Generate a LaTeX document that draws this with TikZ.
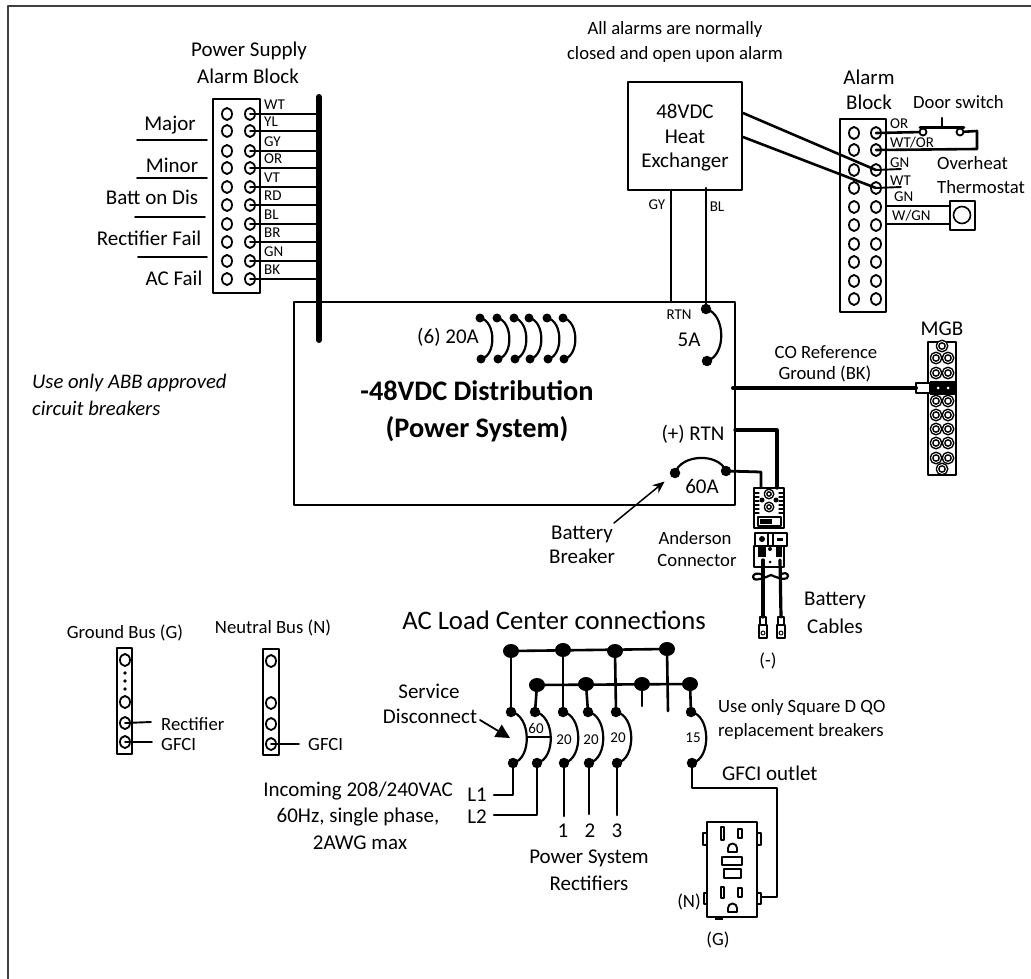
\documentclass[tikz,border=0pt]{standalone}
\usepackage{fontspec}
\setmainfont{Carlito}
\usetikzlibrary{arrows.meta,shapes.geometric}
\tikzset{
	txt/.style={inner sep=0pt,font=\fontsize{21}{24}\selectfont},
	note/.style={inner sep=0pt,font=\fontsize{18.7}{22}\selectfont},
	tag/.style={inner sep=0pt,font=\fontsize{15}{17}\selectfont},
	term/.style={draw,ellipse,line width=1.8pt,minimum width=10pt,minimum height=12pt,inner sep=0pt},
	mterm/.style={draw,circle,line width=1.5pt,minimum size=9pt,inner sep=0pt,double,double distance=.8pt},
	tdot/.style={fill,circle,minimum size=10.5pt,inner sep=0pt},
	bdot/.style={fill,ellipse,minimum width=16pt,minimum height=14pt,inner sep=0pt},
	wire/.style={line width=1.9pt},
	hwire/.style={line width=2.6pt},
	barc/.style={line width=2.2pt},
}
\begin{document}
\begin{tikzpicture}[x=1pt,y=-1pt,line join=round,line cap=round,>=stealth]
	\useasboundingbox (0,0) rectangle (1031,979);
	\draw[line width=1.4pt,black!75,line cap=butt] (8,979) -- (8,6) -- (1031,6);

	\node[txt] (pstitle) at (249,51) {Power Supply};
	\node[txt] (psblock) at (248,76) {Alarm Block};
	\draw[wire] (213,99) rectangle (260,293);
	\foreach \i/\y/\c in {1/114/WT,2/131/YL,3/151/GY,4/168/OR,5/187/VT,6/205/RD,7/224/BL,8/242/BR,9/261/GN,10/279/BK}{
		\node[term] (pl\i) at (227,\y) {};
		\node[term] (pr\i) at (250,\y) {};
		\draw[wire] (pr\i.center) -- (319,\y);
		\node[tag,anchor=west] (plb\i) at (264,\y-9) {\c};
	}
	\draw[line width=6pt] (319,97) -- (319,340);
	\foreach \n/\x/\y/\t in {a/170/125/Major,b/172/165/Minor,c/152/197/Batt on Dis,d/149/238/Rectifier Fail,e/174/278/AC Fail}
		\node[txt] (ps\n) at (\x,\y) {\t};
	\draw[wire] (137,140) -- (207,140);
	\draw[wire] (137,178) -- (207,178);
	\draw[wire] (135,217) -- (205,217);
	\draw[wire] (138,257) -- (207,257);

	\draw[hwire] (294,302) rectangle (735,505);
	\node[inner sep=0pt,font=\fontsize{28.3}{32}\selectfont\bfseries] (dist1) at (477,391) {-48VDC Distribution};
	\node[inner sep=0pt,font=\fontsize{28.3}{32}\selectfont\bfseries] (dist2) at (477,429) {(Power System)};
	\node[txt,anchor=east] (six) at (479,337) {(6) 20A};
	\foreach \i/\xa/\xb in {1/480/481,2/497/498,3/514/515,4/529/530,5/547/548,6/563/564}{
		\node[tdot,minimum size=9pt] (ba\i) at (\xa,318) {};
		\node[tdot,minimum size=9pt] (bb\i) at (\xb,359) {};
		\draw[barc] (ba\i.center) to[bend left=80] (bb\i.center);
	}

	\node[draw,line width=2pt,minimum width=114pt,minimum height=108pt,inner sep=0pt] (hx) at (685,136) {};
	\node[txt] (hx1) at (685,111) {48VDC};
	\node[txt] (hx2) at (685,137) {Heat};
	\node[txt] (hx3) at (685,162) {Exchanger};
	\node[note] (all1) at (675,30) {All alarms are normally};
	\node[note] (all2) at (675,55) {closed and open upon alarm};
	\node[tag] (gy) at (657,205) {GY};
	\node[tag] (bl) at (717,207) {BL};
	\node[tag] (rtn) at (679,315) {RTN};
	\node[txt] (fivea) at (689,340) {5A};
	\node[tdot] (fa) at (706,309) {};
	\node[tdot] (fb) at (707,361) {};
	\draw[barc] (fa.center) to[bend left=75] (fb.center);
	\draw[hwire] (671,190) -- (671,302);
	\draw[hwire] (706,188) -- (fa.center);

	\node[txt] (abt1) at (869,77) {Alarm};
	\node[txt] (abt2) at (869,102) {Block};
	\draw[wire] (840,119) rectangle (886,312);
	\foreach \i/\y in {1/133,2/150,3/170,4/188,5/207,6/225,7/244,8/262,9/281,10/299}{
		\node[term] (al\i) at (854,\y) {};
		\node[term] (ar\i) at (876,\y) {};
	}
	\foreach \n/\x/\y/\t in {a/890/124/OR,b/890/143/{WT/OR},c/890/163/GN,d/890/181/WT,e/894/197/GN,f/892/216/{W/GN}}
		\node[tag,anchor=west] (al\n) at (\x,\y) {\t};
	\draw[hwire] (743,113) -- (ar3.center);
	\draw[hwire] (743,137) -- (ar4.center);
	\draw[wire] (ar3.center) -- (901,169);
	\draw[wire] (ar4.center) -- (901,187);
	\node[note,anchor=west] (door) at (913,102) {Door switch};
	\node[note,anchor=west] (over1) at (937,163) {Overheat};
	\node[note,anchor=west] (over2) at (937,187) {Thermostat};
	\node[term,minimum width=7pt,minimum height=7pt] (dsa) at (923,132) {};
	\node[term,minimum width=7pt,minimum height=7pt] (dsb) at (960,132) {};
	\draw[hwire] (ar1.center) -- (dsa);
	\draw[hwire] (920,127.5) -- (964,127.5);
	\draw[hwire] (942,118) -- (942,127.5);
	\draw[hwire] (dsb) -- (977,131) -- (977,149) -- (ar2.center);
	\node[draw,line width=2pt,minimum width=25pt,minimum height=29pt,inner sep=0pt] (thbox) at (962.5,215.5) {};
	\node[draw,circle,line width=1.6pt,minimum size=17pt,inner sep=0pt] (thcirc) at (962,215) {};
	\draw[hwire] (887,206) -- (950,206);
	\draw[hwire] (887,224) -- (950,224);

	\node[txt] (mgb) at (942,329) {MGB};
	\draw[wire] (928,342) rectangle (956,475);
	\node[mterm] (mgt) at (942,346) {};
	\node[mterm] (mgz) at (942,469) {};
	\foreach \i/\y in {1/358,2/373,3/388,4/401,5/415,6/429,7/443,8/458}{
		\node[mterm] (mgl\i) at (936,\y) {};
		\node[mterm] (mgr\i) at (948,\y) {};
	}
	\fill (930,381) rectangle (955,395);
	\draw[line width=2pt,fill=white] (916,383) rectangle (930,393);
	\node[fill=white,circle,minimum size=3pt,inner sep=0pt] (lugb) at (938,388) {};
	\node[fill=white,circle,minimum size=3pt,inner sep=0pt] (lugc) at (948,388) {};
	\draw[line width=4pt] (733,388) -- (916,388);
	\node[note] (co1) at (826,352) {CO Reference};
	\node[note] (co2) at (825,374) {Ground (BK)};

	\node[txt] (rtnp) at (693,434) {(+) RTN};
	\node[tdot] (ba) at (675,473) {};
	\node[tdot] (bb) at (726,471) {};
	\draw[barc] (ba.center) to[bend left=70] (bb.center);
	\node[txt] (sixty) at (702,486) {60A};
	\draw[line width=2.8pt] (bb.center) -- (761,472) -- (761,488);
	\draw[line width=3.2pt] (735,430) -- (777,430) -- (777,488);
	\node[txt,align=center] (bbrk) at (582,545) {Battery\\Breaker};
	\draw[-{Stealth[length=12pt,width=10pt]},line width=1.5pt,shorten >=8pt] (614,523) -- (ba);

	\draw[line width=1.5pt] (754,488) rectangle (784,528);
	\foreach \y in {493,497,501,505,509,513}{
		\draw[line width=1.3pt] (754,\y) -- (759,\y);
		\draw[line width=1.3pt] (779,\y) -- (784,\y);
	}
	\node[mterm,minimum size=7pt] (anda) at (769,494) {};
	\node[mterm,minimum size=7pt] (andb) at (769,507) {};
	\node[fill,circle,minimum size=5pt,inner sep=0pt] (andc) at (762,500) {};
	\node[fill,circle,minimum size=5pt,inner sep=0pt] (andd) at (776,500) {};
	\draw[line width=1.5pt] (758,517) rectangle (781,526);
	\fill (760,519) rectangle (772,524);
	\draw[line width=1.5pt] (755,533) rectangle (787,546);
	\draw[line width=1.5pt] (768,533) -- (768,546) (773,533) -- (773,546);
	\node[fill,circle,minimum size=6pt,inner sep=0pt] (ande) at (762,539) {};
	\fill (777,538) rectangle (783,541);
	\draw[line width=1.5pt] (754,546) rectangle (784,567);
	\fill (758,546) rectangle (766,557);
	\fill (776,546) rectangle (782,557);
	\node[fill,circle,minimum size=3pt,inner sep=0pt] (andf) at (770,562) {};
	\node[fill,circle,minimum size=4pt,inner sep=0pt] (andg) at (770,549) {};
	\draw[line width=2.2pt] (763,575) .. controls (757,572) and (753,574) .. (753,577) .. controls (753,581) and (760,580) .. (771,575) .. controls (782,580) and (788,580) .. (788,576) .. controls (788,573) and (784,572) .. (780,575);
	\coordinate (cbl) at (763,560);
	\coordinate (cbr) at (780,560);
	\coordinate (lgl) at (763,617);
	\coordinate (lgr) at (781,617);
	\draw[line width=3.2pt] (cbl) -- (lgl);
	\draw[line width=3.2pt] (cbr) -- (lgr);
	\foreach \x/\n in {763/l,781/r}{
		\draw[line width=1.4pt] (\x-3,617) rectangle (\x+3,625);
		\draw[line width=1.4pt,fill=white] (\x-4,625) rectangle (\x+4,638);
		\node[draw,circle,line width=1pt,minimum size=4pt,inner sep=0pt] (lug\n) at (\x,633) {};
	}
	\node[note] (and1) at (695,538) {Anderson};
	\node[note] (and2) at (697,560) {Connector};
	\node[txt] (bc1) at (835,600) {Battery};
	\node[txt] (bc2) at (835,626) {Cables};
	\node[note] (minus) at (768,661) {(-)};

	\node[inner sep=0pt,font=\fontsize{26.7}{30}\selectfont] (act) at (554,620) {AC Load Center connections};
	\foreach \n/\x/\y in {a/511/651,b/563/650,c/615/651,d/667/649,e/537/685,f/586/684,g/642/684,h/690/684}
		\node[bdot] (bus\n) at (\x,\y) {};
	\draw[hwire] (busa.center) -- (busd.center);
	\draw[hwire] (buse.center) -- (bush.center);
	\foreach \n/\xa/\xb/\bz in {a/511/513/a,b/535/537/e,c/563/564/b,d/588/589/f,e/616/617/c,f/691/692/h}{
		\node[tdot] (ct\n) at (\xa,712) {};
		\node[tdot] (cb\n) at (\xb,763) {};
		\draw[hwire] (bus\bz.center) -- (ct\n.center);
		\draw[barc] (ct\n.center) to[bend left=80] (cb\n.center);
	}
	\node[tag] (am1) at (536,728) {60};
	\node[tag] (am2) at (564,740) {20};
	\node[tag] (am3) at (591,740) {20};
	\node[tag] (am4) at (618,738) {20};
	\node[tag] (am5) at (693,738) {15};
	\draw[hwire] (527,737) -- (550,737);
	\draw[hwire] (busg.center) -- (642,706);
	\draw[hwire] (busd.center) -- (668,711);
	\draw[hwire] (cba.center) |- (494,795);
	\draw[hwire] (cbb.center) |- (494,815);
	\draw[hwire] (cbc.center) -- (564,816);
	\draw[hwire] (cbd.center) -- (589,814);
	\draw[hwire] (cbe.center) -- (617,815);
	\draw[hwire] (cbf.center) -- (692,788) -- (777,788) -- (777,897) -- (760,897);
	\node[txt] (l1) at (477,795) {L1};
	\node[txt] (l2) at (477,817) {L2};
	\node[txt] (n1) at (563,831) {1};
	\node[txt] (n2) at (590,831) {2};
	\node[txt] (n3) at (617,831) {3};
	\node[txt] (rect1) at (589,858) {Power System};
	\node[txt] (rect2) at (589,883) {Rectifiers};
	\node[txt] (inc1) at (358,791) {Incoming 208/240VAC};
	\node[txt] (inc2) at (358,817) {60Hz, single phase,};
	\node[txt] (inc3) at (360,843) {2AWG max};
	\node[txt] (svc1) at (429,691) {Service};
	\node[txt] (svc2) at (430,716) {Disconnect};
	\draw[-{Triangle[length=14pt,width=14pt]},line width=1.8pt] (480,720) -- (510,738);
	\node[note,anchor=west] (sq1) at (718,708) {Use only Square D QO};
	\node[note,anchor=west] (sq2) at (718,732) {replacement breakers};
	\node[txt,anchor=west] (gfo) at (722,773) {GFCI outlet};

	\draw[hwire] (707,822) rectangle (757,917);
	\draw[wire,fill=white] (703,833) rectangle (707,845);
	\draw[wire,fill=white] (757,833) rectangle (761,845);
	\draw[wire,fill=white] (704,893) rectangle (707,904);
	\draw[wire,fill=white] (757,893) rectangle (761,904);
	\fill (715,917) rectangle (723,920);
	\draw[wire] (721,827) rectangle (724,840);
	\draw[wire] (738,829) rectangle (742,838);
	\draw[wire] (721,887) rectangle (724,898);
	\draw[wire] (738,888) rectangle (742,897);
	\draw[wire] (722,857) rectangle (742,865);
	\draw[wire] (724,869) rectangle (741,878);
	\draw[wire] (728,852) -- (737,852) -- (737,848) arc (0:-180:4.5) -- cycle;
	\draw[wire] (728,912) -- (737,912) -- (737,908) arc (0:-180:4.5) -- cycle;
	\node[note] (nn) at (689,902) {(N)};
	\node[note] (gg) at (718,940) {(G)};

	\node[note] (gb) at (125,633) {Ground Bus (G)};
	\draw[hwire] (117,648) rectangle (132,754);
	\foreach \i/\y in {1/660,2/702,3/723,4/742}
		\node[term] (gt\i) at (125,\y) {};
	\foreach \y in {673,681,689}
		\fill (125,\y) circle (1.8);
	\coordinate (gfr) at (151,722);
	\coordinate (gfg) at (152,742);
	\draw[wire] (gt3.center) -- (gfr);
	\draw[wire] (gt4.center) -- (gfg);
	\node[note,anchor=west] (gbr) at (161,724) {Rectifier};
	\node[note,anchor=west] (gbg) at (161,744) {GFCI};

	\node[note] (nb) at (273,628) {Neutral Bus (N)};
	\draw[hwire] (263,649) rectangle (279,755);
	\foreach \i/\y in {1/661,2/703,3/724,4/744}
		\node[term] (nt\i) at (271,\y) {};
	\coordinate (nfg) at (299,744);
	\draw[wire] (nt4.center) -- (nfg);
	\node[note,anchor=west] (nbg) at (308,744) {GFCI};

	\node[note,font=\fontsize{20.7}{24}\selectfont\itshape,anchor=west] (abb1) at (32,383) {Use only ABB approved};
	\node[note,font=\fontsize{20.7}{24}\selectfont\itshape,anchor=west] (abb2) at (32,408) {circuit breakers};
\end{tikzpicture}
\end{document}
